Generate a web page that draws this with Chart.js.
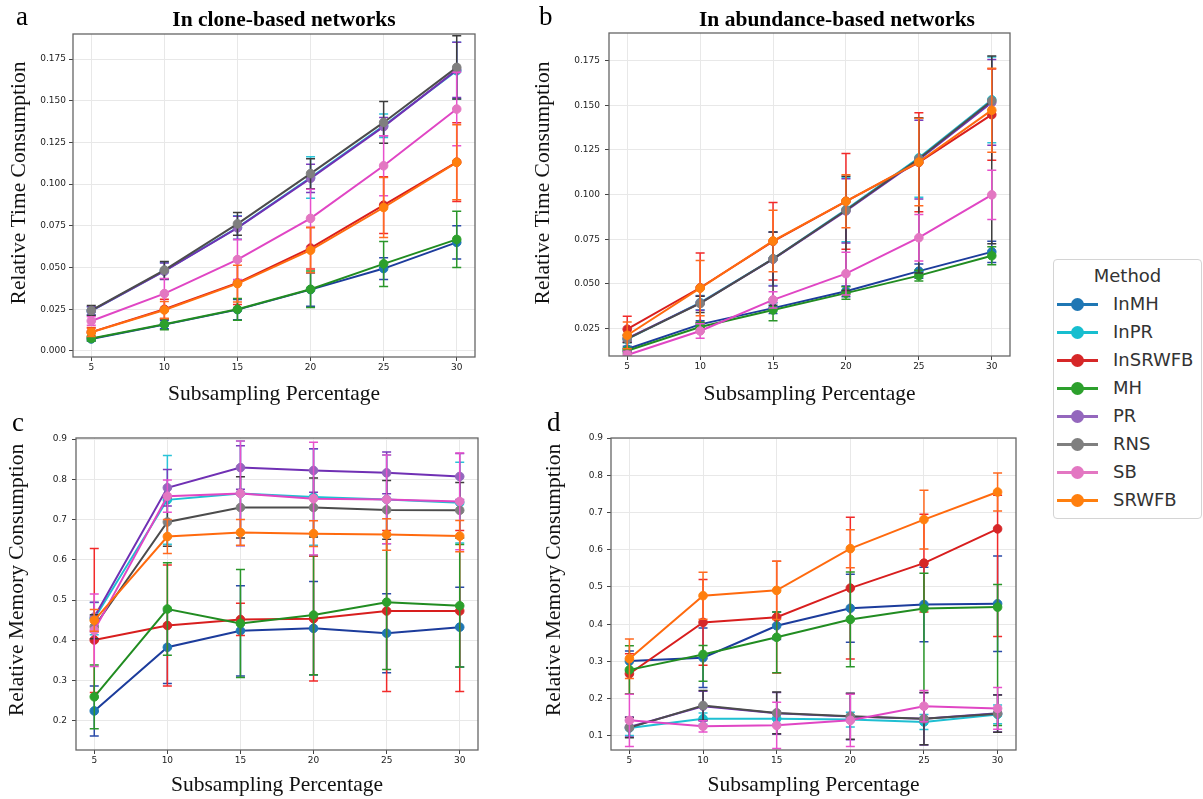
<!DOCTYPE html>
<html><head><meta charset="utf-8">
<script src="https://cdn.jsdelivr.net/npm/chart.js@4.4.1/dist/chart.umd.min.js"></script>
<style>
html,body{margin:0;padding:0;background:#fff;}
body{width:1203px;height:799px;overflow:hidden;position:relative;}
canvas{position:absolute;}
.letter{position:absolute;font-family:"Liberation Serif",serif;font-size:27px;line-height:1;color:#000;}
.ptitle{position:absolute;font-family:"Liberation Serif",serif;font-weight:bold;font-size:21.5px;line-height:1;color:#000;transform:translateX(-50%);white-space:nowrap;}
#legend{position:absolute;left:1053px;top:259px;width:149px;height:260px;border:1px solid #d4d4d4;border-radius:4px;box-sizing:border-box;font-family:"DejaVu Sans",sans-serif;background:#fff;}
#legend .lt{position:absolute;left:0;width:100%;top:4px;text-align:center;font-size:18px;color:#333;line-height:24px;}
#legend .ln{position:absolute;height:3px;width:41px;left:3px;}
#legend .mk{position:absolute;width:13px;height:13px;border-radius:50%;left:17px;}
#legend .tx{position:absolute;left:59px;font-size:18px;color:#333;line-height:22px;}
</style>
</head><body>
<canvas id="ca" width="520" height="420" style="left:0;top:0"></canvas>
<canvas id="cb" width="520" height="420" style="left:520px;top:0"></canvas>
<canvas id="cc" width="520" height="400" style="left:0;top:400px"></canvas>
<canvas id="cd" width="520" height="400" style="left:520px;top:400px"></canvas>
<div class="letter" style="left:16px;top:3px">a</div>
<div class="letter" style="left:539px;top:3px">b</div>
<div class="letter" style="left:12px;top:409px">c</div>
<div class="letter" style="left:547px;top:409px">d</div>
<div class="ptitle" style="left:284px;top:9px">In clone-based networks</div>
<div class="ptitle" style="left:837px;top:9px">In abundance-based networks</div>
<div id="legend"><div class="lt">Method</div></div>
<script>
// ---------- shared ----------
const xValues = [5, 10, 15, 20, 25, 30];
const xTicks = [5, 10, 15, 20, 25, 30];
const methods = ['InMH', 'InPR', 'InSRWFB', 'MH', 'PR', 'RNS', 'SB', 'SRWFB'];
const markerColors = ['#1f77b4', '#17becf', '#d62728', '#2ca02c', '#9467bd', '#7f7f7f', '#e377c2', '#ff7f0e'];
const lineColors = ['#1c3c9c', '#1fbfd2', '#d81e1e', '#218c21', '#7030b4', '#4c4c4c', '#e046c4', '#ff6a0e'];
const errColors = ['#2a4aa8', '#2ac4d8', '#f22a2a', '#2a962a', '#7a3cbc', '#3c3c3c', '#e850cc', '#ff6a20'];

const yTicksA = [0, 0.025, 0.05, 0.075, 0.1, 0.125, 0.15, 0.175];
const yTicksB = [0.025, 0.05, 0.075, 0.1, 0.125, 0.15, 0.175];
const yTicksC = [0.2, 0.3, 0.4, 0.5, 0.6, 0.7, 0.8, 0.9];
const yTicksD = [0.1, 0.2, 0.3, 0.4, 0.5, 0.6, 0.7, 0.8, 0.9];

// ---------- panel a : time, clone-based ----------
const a_InMH      = [0.0072, 0.0158, 0.0248, 0.0368, 0.0494, 0.0651];
const a_InMH_err  = [0.0012, 0.0025, 0.0060, 0.0100, 0.0065, 0.0100];
const a_InPR      = [0.0240, 0.0480, 0.0740, 0.1040, 0.1350, 0.1680];
const a_InPR_err  = [0.0025, 0.0050, 0.0070, 0.0125, 0.0070, 0.0170];
const a_InSRWFB     = [0.0113, 0.0250, 0.0408, 0.0617, 0.0874, 0.1132];
const a_InSRWFB_err = [0.0028, 0.0060, 0.0130, 0.0125, 0.0170, 0.0236];
const a_MH        = [0.0075, 0.0160, 0.0250, 0.0370, 0.0522, 0.0669];
const a_MH_err    = [0.0015, 0.0033, 0.0065, 0.0110, 0.0135, 0.0168];
const a_PR        = [0.0240, 0.0478, 0.0738, 0.1035, 0.1345, 0.1685];
const a_PR_err    = [0.0025, 0.0050, 0.0070, 0.0085, 0.0055, 0.0165];
const a_RNS       = [0.0243, 0.0485, 0.0762, 0.1063, 0.1370, 0.1700];
const a_RNS_err   = [0.0030, 0.0052, 0.0068, 0.0090, 0.0125, 0.0190];
const a_SB        = [0.0180, 0.0344, 0.0548, 0.0795, 0.1110, 0.1450];
const a_SB_err    = [0.0025, 0.0090, 0.0120, 0.0175, 0.0180, 0.0220];
const a_SRWFB     = [0.0112, 0.0246, 0.0404, 0.0604, 0.0860, 0.1131];
const a_SRWFB_err = [0.0025, 0.0050, 0.0110, 0.0135, 0.0180, 0.0225];

// ---------- panel b : time, abundance-based ----------
const b_InMH      = [0.0135, 0.0273, 0.0364, 0.0458, 0.0571, 0.0679];
const b_InMH_err  = [0.0015, 0.0020, 0.0030, 0.0030, 0.0040, 0.0060];
const b_InPR      = [0.0190, 0.0395, 0.0640, 0.0915, 0.1205, 0.1530];
const b_InPR_err  = [0.0020, 0.0040, 0.0150, 0.0180, 0.0220, 0.0240];
const b_InSRWFB     = [0.0246, 0.0478, 0.0738, 0.0962, 0.1180, 0.1447];
const b_InSRWFB_err = [0.0073, 0.0195, 0.0217, 0.0268, 0.0277, 0.0255];
const b_MH        = [0.0125, 0.0258, 0.0354, 0.0448, 0.0546, 0.0657];
const b_MH_err    = [0.0015, 0.0025, 0.0060, 0.0035, 0.0030, 0.0050];
const b_PR        = [0.0195, 0.0392, 0.0638, 0.0908, 0.1195, 0.1515];
const b_PR_err    = [0.0020, 0.0040, 0.0150, 0.0180, 0.0220, 0.0240];
const b_RNS       = [0.0192, 0.0390, 0.0640, 0.0912, 0.1200, 0.1525];
const b_RNS_err   = [0.0020, 0.0040, 0.0150, 0.0190, 0.0230, 0.0250];
const b_RNS_errLo = [0.0020, 0.0050, 0.0260, 0.0450, 0.0640, 0.0800];
const b_SB        = [0.0102, 0.0236, 0.0410, 0.0557, 0.0758, 0.0998];
const b_SB_err    = [0.0020, 0.0040, 0.0045, 0.0120, 0.0130, 0.0138];
const b_SRWFB     = [0.0212, 0.0476, 0.0740, 0.0962, 0.1182, 0.1472];
const b_SRWFB_err = [0.0075, 0.0155, 0.0172, 0.0148, 0.0245, 0.0235];

// ---------- panel c : memory, clone-based ----------
const c_InMH      = [0.225, 0.383, 0.424, 0.430, 0.418, 0.433];
const c_InMH_err  = [0.062, 0.090, 0.112, 0.116, 0.098, 0.099];
const c_InPR      = [0.454, 0.749, 0.765, 0.756, 0.750, 0.742];
const c_InPR_err  = [0.040, 0.110, 0.130, 0.120, 0.110, 0.100];
const c_InSRWFB       = [0.401, 0.437, 0.452, 0.454, 0.473, 0.473];
const c_InSRWFB_err   = [0.227, 0.150, 0.040, 0.155, 0.200, 0.200];
const c_InSRWFB_errLo = [0.130, 0.150, 0.040, 0.155, 0.200, 0.200];
const c_MH        = [0.260, 0.478, 0.442, 0.463, 0.495, 0.486];
const c_MH_err    = [0.079, 0.115, 0.134, 0.148, 0.167, 0.152];
const c_PR        = [0.458, 0.779, 0.829, 0.822, 0.816, 0.807];
const c_PR_err    = [0.037, 0.045, 0.054, 0.054, 0.052, 0.057];
const c_RNS       = [0.434, 0.694, 0.730, 0.730, 0.724, 0.723];
const c_RNS_err   = [0.030, 0.060, 0.076, 0.073, 0.073, 0.069];
const c_SB        = [0.425, 0.758, 0.765, 0.752, 0.750, 0.745];
const c_SB_err    = [0.090, 0.040, 0.130, 0.140, 0.110, 0.120];
const c_SRWFB     = [0.450, 0.658, 0.668, 0.665, 0.663, 0.659];
const c_SRWFB_err = [0.027, 0.042, 0.032, 0.032, 0.039, 0.039];

// ---------- panel d : memory, abundance-based ----------
const d_InMH      = [0.301, 0.310, 0.396, 0.443, 0.453, 0.455];
const d_InMH_err  = [0.027, 0.080, 0.037, 0.091, 0.100, 0.128];
const d_InPR      = [0.1215, 0.1465, 0.1465, 0.1440, 0.1376, 0.1580];
const d_InPR_err  = [0.020, 0.015, 0.015, 0.020, 0.020, 0.025];
const d_InSRWFB       = [0.267, 0.405, 0.419, 0.497, 0.564, 0.656];
const d_InSRWFB_err   = [0.054, 0.115, 0.150, 0.190, 0.131, 0.090];
const d_InSRWFB_errLo = [0.054, 0.115, 0.150, 0.190, 0.131, 0.289];
const d_MH        = [0.2775, 0.319, 0.365, 0.413, 0.442, 0.446];
const d_MH_err    = [0.065, 0.024, 0.068, 0.127, 0.095, 0.061];
const d_MH_errLo  = [0.065, 0.072, 0.095, 0.127, 0.304, 0.318];
const d_PR        = [0.124, 0.180, 0.161, 0.152, 0.146, 0.161];
const d_PR_err    = [0.027, 0.040, 0.056, 0.062, 0.070, 0.050];
const d_RNS       = [0.1224, 0.182, 0.162, 0.153, 0.1465, 0.160];
const d_RNS_err   = [0.027, 0.040, 0.056, 0.062, 0.070, 0.050];
const d_SB        = [0.142, 0.126, 0.1286, 0.142, 0.180, 0.174];
const d_SB_err    = [0.070, 0.015, 0.062, 0.070, 0.042, 0.056];
const d_SRWFB     = [0.3076, 0.4767, 0.491, 0.603, 0.681, 0.755];
const d_SRWFB_err = [0.053, 0.063, 0.078, 0.051, 0.079, 0.051];

// ---------- plugins ----------
const errorBarPlugin = {
  id: 'errbars',
  beforeDatasetDraw(chart, args) {
    const ds = chart.data.datasets[args.index];
    const meta = args.meta;
    const ys = chart.scales.y;
    const ctx = chart.ctx;
    const a = chart.chartArea;
    ctx.save();
    ctx.beginPath();
    ctx.rect(a.left, a.top, a.right - a.left, a.bottom - a.top);
    ctx.clip();
    ctx.strokeStyle = ds.errColor;
    ctx.lineWidth = 1.5;
    meta.data.forEach((pt, i) => {
      const v = ds.data[i].y;
      const yt = ys.getPixelForValue(v + ds.errUp[i]);
      const yb = ys.getPixelForValue(v - ds.errDown[i]);
      ctx.beginPath();
      ctx.moveTo(pt.x, yt); ctx.lineTo(pt.x, yb);
      ctx.moveTo(pt.x - 4.5, yt); ctx.lineTo(pt.x + 4.5, yt);
      ctx.moveTo(pt.x - 4.5, yb); ctx.lineTo(pt.x + 4.5, yb);
      ctx.stroke();
    });
    ctx.restore();
  }
};
const framePlugin = {
  id: 'frame',
  afterDraw(chart) {
    const a = chart.chartArea, ctx = chart.ctx;
    ctx.save();
    ctx.strokeStyle = '#666';
    ctx.lineWidth = 1.3;
    ctx.strokeRect(a.left, a.top, a.right - a.left, a.bottom - a.top);
    ctx.restore();
  }
};
// y-axis title drawn rotated, centred at a chosen point (matplotlib places it slightly above the axes centre)
const yLabelPlugin = {
  id: 'yLabel',
  afterDraw(chart, args, opts) {
    const ctx = chart.ctx;
    ctx.save();
    ctx.translate(opts.x, opts.y);
    ctx.rotate(-Math.PI / 2);
    ctx.font = '21.5px "Liberation Serif"';
    ctx.fillStyle = '#111';
    ctx.textAlign = 'center';
    ctx.textBaseline = 'middle';
    ctx.fillText(opts.text, 0, 0);
    ctx.restore();
  }
};

function buildDatasets(vals, errs, errLos) {
  return methods.map((m, i) => ({
    label: m,
    data: xValues.map((x, k) => ({ x: x, y: vals[i][k] })),
    errUp: errs[i],
    errDown: errLos[i] || errs[i],
    errColor: errColors[i],
    borderColor: lineColors[i],
    backgroundColor: markerColors[i],
    pointBackgroundColor: markerColors[i],
    pointBorderColor: markerColors[i],
    pointRadius: 4.3,
    pointBorderWidth: 1,
    borderWidth: 2,
    tension: 0,
    fill: false,
    order: methods.length - i
  }));
}

function makeChart(p) {
  return new Chart(document.getElementById(p.id), {
    type: 'line',
    data: { datasets: buildDatasets(p.vals, p.errs, p.errLos) },
    options: {
      responsive: false,
      animation: false,
      devicePixelRatio: 1,
      layout: { padding: { top: p.padTop, right: p.padRight, left: 0, bottom: 0 } },
      plugins: {
        legend: { display: false }, tooltip: { enabled: false }, title: { display: false },
        yLabel: { text: p.yTitle, x: p.yTitleX, y: p.yTitleY }
      },
      scales: {
        x: {
          type: 'linear', min: 3.75, max: 31.25,
          afterBuildTicks: s => { s.ticks = xTicks.map(v => ({ value: v })); },
          afterFit: s => { s.height = p.xHeight; },
          border: { display: false },
          grid: { color: '#e8e8e8', lineWidth: 1, tickLength: 4, tickColor: '#444', tickWidth: 1 },
          ticks: { font: { family: 'DejaVu Sans', size: 9 }, color: '#222', padding: 1, maxRotation: 0, autoSkip: false,
                   callback: v => String(v) },
          title: { display: true, text: 'Subsampling Percentage', color: '#111',
                   font: { family: 'Liberation Serif', size: 21.5 }, padding: { top: 0, bottom: p.xTitlePad } }
        },
        y: {
          type: 'linear', min: p.yMin, max: p.yMax,
          afterBuildTicks: s => { s.ticks = p.yTicks.map(v => ({ value: v })); },
          afterFit: s => { s.width = p.yWidth; },
          border: { display: false },
          grid: { color: '#e8e8e8', lineWidth: 1, tickLength: 4, tickColor: '#444', tickWidth: 1 },
          ticks: { font: { family: 'DejaVu Sans', size: 9 }, color: '#222', padding: p.yTickPad, autoSkip: false,
                   callback: v => Number(v).toFixed(p.decimals) },
          title: { display: false, text: p.yTitle }
        }
      }
    },
    plugins: [errorBarPlugin, framePlugin, yLabelPlugin]
  });
}

makeChart({
  id: 'ca', padTop: 34, padRight: 45, yWidth: 73, xHeight: 63, xTitlePad: 13, yTickPad: 3,
  yTitleX: 19, yTitleY: 183,
  yMin: -0.0036, yMax: 0.190, yTicks: yTicksA, decimals: 3, yTitle: 'Relative Time Consumption',
  vals: [a_InMH, a_InPR, a_InSRWFB, a_MH, a_PR, a_RNS, a_SB, a_SRWFB],
  errs: [a_InMH_err, a_InPR_err, a_InSRWFB_err, a_MH_err, a_PR_err, a_RNS_err, a_SB_err, a_SRWFB_err],
  errLos: []
});
makeChart({
  id: 'cb', padTop: 33, padRight: 30, yWidth: 89, xHeight: 64, xTitlePad: 13, yTickPad: 5,
  yTitleX: 23, yTitleY: 183,
  yMin: 0.0096, yMax: 0.1904, yTicks: yTicksB, decimals: 3, yTitle: 'Relative Time Consumption',
  vals: [b_InMH, b_InPR, b_InSRWFB, b_MH, b_PR, b_RNS, b_SB, b_SRWFB],
  errs: [b_InMH_err, b_InPR_err, b_InSRWFB_err, b_MH_err, b_PR_err, b_RNS_err, b_SB_err, b_SRWFB_err],
  errLos: [null, null, null, null, null, b_RNS_errLo, null, null]
});
makeChart({
  id: 'cc', padTop: 38, padRight: 42, yWidth: 76, xHeight: 50, xTitlePad: 1.4, yTickPad: 5,
  yTitleX: 17, yTitleY: 180,
  yMin: 0.128, yMax: 0.9025, yTicks: yTicksC, decimals: 1, yTitle: 'Relative Memory Consumption',
  vals: [c_InMH, c_InPR, c_InSRWFB, c_MH, c_PR, c_RNS, c_SB, c_SRWFB],
  errs: [c_InMH_err, c_InPR_err, c_InSRWFB_err, c_MH_err, c_PR_err, c_RNS_err, c_SB_err, c_SRWFB_err],
  errLos: [null, null, c_InSRWFB_errLo, null, null, null, null, null]
});
makeChart({
  id: 'cd', padTop: 38, padRight: 24, yWidth: 91, xHeight: 50, xTitlePad: 1.4, yTickPad: 4,
  yTitleX: 34, yTitleY: 180,
  yMin: 0.0624, yMax: 0.9, yTicks: yTicksD, decimals: 1, yTitle: 'Relative Memory Consumption',
  vals: [d_InMH, d_InPR, d_InSRWFB, d_MH, d_PR, d_RNS, d_SB, d_SRWFB],
  errs: [d_InMH_err, d_InPR_err, d_InSRWFB_err, d_MH_err, d_PR_err, d_RNS_err, d_SB_err, d_SRWFB_err],
  errLos: [null, null, d_InSRWFB_errLo, d_MH_errLo, null, null, null, null]
});

// ---------- legend ----------
const legend = document.getElementById('legend');
methods.forEach((m, i) => {
  const cy = 44 + i * 28;
  const ln = document.createElement('div');
  ln.className = 'ln'; ln.style.top = (cy - 1.5) + 'px'; ln.style.background = markerColors[i];
  const mk = document.createElement('div');
  mk.className = 'mk'; mk.style.top = (cy - 6.5) + 'px'; mk.style.background = markerColors[i];
  const tx = document.createElement('div');
  tx.className = 'tx'; tx.style.top = (cy - 11) + 'px'; tx.textContent = m;
  legend.appendChild(ln); legend.appendChild(mk); legend.appendChild(tx);
});
</script>
</body></html>
